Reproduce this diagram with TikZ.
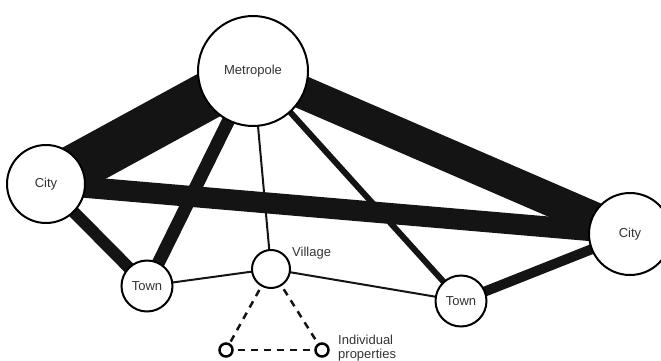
\documentclass[tikz,border=0pt]{standalone}
\usepackage{fontspec}
\setmainfont{Liberation Sans}
\usetikzlibrary{backgrounds}
\begin{document}
\begin{tikzpicture}[x=1pt,y=-1pt,
  place/.style={circle,draw=black,line width=2pt,fill=white,inner sep=0pt,
    font=\fontsize{13}{14}\selectfont,text=black!80},
  lab/.style={inner sep=0pt,font=\fontsize{13}{13.5}\selectfont,text=black!80},
  link/.style={line width=#1,draw=black!92},
  dashlink/.style={line width=2.5pt,draw=black!92,dash pattern=on 7pt off 6pt,dash phase=-4pt}
]
\useasboundingbox (0,0) rectangle (661,361);
\clip (0,0) rectangle (661,361);
% places
\node[place,minimum size=110pt] (M)  at (253,71)  {Metropole};
\node[place,minimum size=78pt]  (CL) at (46,184)  {City};
\node[place,minimum size=82pt]  (CR) at (630,234) {City};
\node[place,minimum size=51pt]  (TL) at (147,286) {Town};
\node[place,minimum size=51pt]  (TR) at (461,301) {Town};
\node[place,minimum size=38pt]  (V)  at (271,269) {};
\node[place,minimum size=13pt,line width=2.5pt] (P1) at (226,350) {};
\node[place,minimum size=13pt,line width=2.5pt] (P2) at (322,350) {};
% labels
\node[lab,anchor=west] (VL) at (292,253) {Village};
\node[lab,anchor=north west,align=left] (IP) at (338,335) {Individual\\properties};
% connectors
\begin{scope}[on background layer]
  \draw[link=48pt] (M.center) -- (CL.center);
  \draw[link=33pt] (M.center) -- (CR.center);
  \draw[link=21pt] (CL.center) -- (CR.center);
  \draw[link=13pt] (M.center) -- (TL.center);
  \draw[link=12pt] (CL.center) -- (TL.center);
  \draw[link=10pt] (TR.center) -- (CR.center);
  \draw[link=6pt]  (M.center) -- (TR.center);
  \draw[link=2pt]  (M.center) -- (V.center);
  \draw[link=2pt]  (TL.center) -- (V.center);
  \draw[link=2pt]  (V.center) -- (TR.center);
\end{scope}
\draw[dashlink] (V) -- (P1);
\draw[dashlink] (V) -- (P2);
\draw[dashlink] (P1) -- (P2);
\end{tikzpicture}
\end{document}
